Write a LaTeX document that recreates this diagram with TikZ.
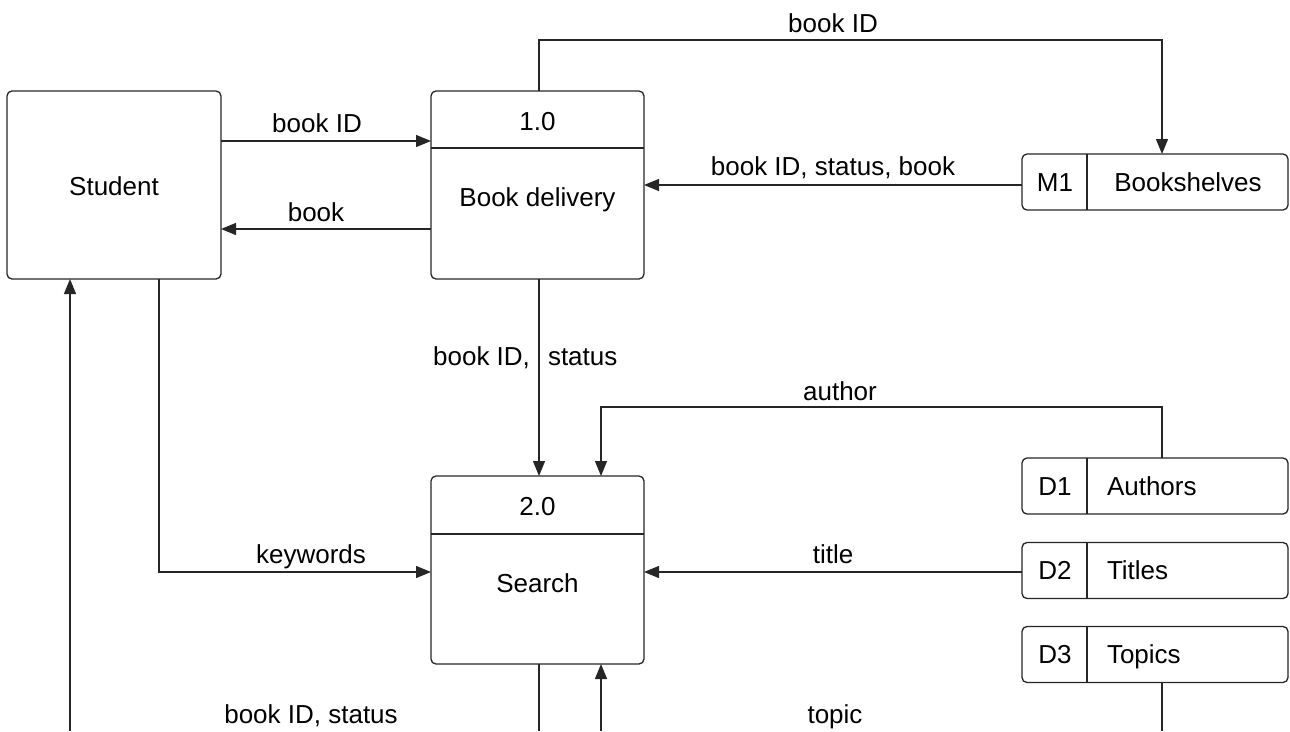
\documentclass[tikz,border=0pt]{standalone}
\usepackage{fontspec}
\setmainfont{Liberation Sans}
\usetikzlibrary{arrows.meta}
\begin{document}
\begin{tikzpicture}[x=1pt,y=-1pt,
  every node/.style={font=\fontsize{26pt}{30pt}\selectfont, inner sep=0pt, outer sep=0pt},
  box/.style={draw=black!85, line width=1.3pt, rounded corners=5pt},
  wire/.style={draw=black!85, line width=1.3pt},
  arr/.style={wire, -{Triangle[length=15pt,width=12pt]}},
  lbl/.style={anchor=base},
  ltxt/.style={anchor=base west}]
\useasboundingbox (0,0) rectangle (1290,731);
% entities and processes
\node[box, minimum width=214pt, minimum height=188pt] (student) at (114,185) {};
\node[box, minimum width=213pt, minimum height=188pt] (p1) at (537.5,185) {};
\node[box, minimum width=213pt, minimum height=188pt] (p2) at (537.5,570) {};
\draw[wire] (p1.west |- 0,148) -- (p1.east |- 0,148);
\draw[wire] (p2.west |- 0,534) -- (p2.east |- 0,534);
\node[lbl] (tstudent) at (114,195) {Student};
\node[lbl] (tp1n) at (537.5,130) {1.0};
\node[lbl] (tp1) at (537.5,206) {Book delivery};
\node[lbl] (tp2n) at (537.5,515) {2.0};
\node[lbl] (tp2) at (537.5,592) {Search};
% data stores
\node[box, minimum width=266pt, minimum height=56pt] (m1) at (1155,182) {};
\node[box, minimum width=266pt, minimum height=56pt] (d1) at (1155,486) {};
\node[box, minimum width=266pt, minimum height=56pt] (d2) at (1155,570.5) {};
\node[box, minimum width=266pt, minimum height=56pt] (d3) at (1155,654.5) {};
\foreach \s in {m1,d1,d2,d3}
  \draw[wire] ([xshift=65pt]\s.north west) -- ([xshift=65pt]\s.south west);
\node[lbl] (tm1i) at (1055,191) {M1};
\node[lbl] (tm1) at (1188,191) {Bookshelves};
\node[lbl] (td1i) at (1055,495) {D1};
\node[ltxt] (td1) at (1107,495) {Authors};
\node[lbl] (td2i) at (1055,579) {D2};
\node[ltxt] (td2) at (1107,579) {Titles};
\node[lbl] (td3i) at (1055,663) {D3};
\node[ltxt] (td3) at (1107,663) {Topics};
% free ends at the bottom edge
\coordinate (e1) at (70,731);
\coordinate (e2) at (539,731);
\coordinate (e3) at (601,731);
\coordinate (e4) at (1162,731);
% flows
\draw[arr] (student.east |- 0,141) -- (p1.west |- 0,141);
\draw[arr] (p1.west |- 0,229) -- (student.east |- 0,229);
\draw[arr] (p1.north -| 539,0) |- (1162,40) -- (m1.north -| 1162,0);
\draw[arr] (m1.west |- 0,185) -- (p1.east |- 0,185);
\draw[arr] (p1.south -| 539,0) -- (p2.north -| 539,0);
\draw[arr] (d1.north -| 1162,0) |- (601,407) -- (p2.north -| 601,0);
\draw[arr] (d2.west |- 0,572) -- (p2.east |- 0,572);
\draw[arr] (student.south -| 159,0) |- (p2.west |- 0,572);
\draw[arr] (e1) -- (student.south -| e1);
\draw[wire] (p2.south -| e2) -- (e2);
\draw[arr] (e3) -- (p2.south -| e3);
\draw[wire] (d3.south -| e4) -- (e4);
% flow labels
\node[lbl] (l1) at (317,132) {book ID};
\node[lbl] (l2) at (316,221) {book};
\node[lbl] (l3) at (833,32) {book ID};
\node[lbl] (l4) at (833,175) {book ID, status, book};
\node[anchor=base east] (l5a) at (530,365) {book ID,};
\node[anchor=base west] (l5b) at (548,365) {status};
\node[lbl] (l6) at (840,400) {author};
\node[lbl] (l7) at (311,563) {keywords};
\node[lbl] (l8) at (833,563) {title};
\node[lbl] (l9) at (311,723) {book ID, status};
\node[lbl] (l10) at (835,723) {topic};
\end{tikzpicture}
\end{document}
